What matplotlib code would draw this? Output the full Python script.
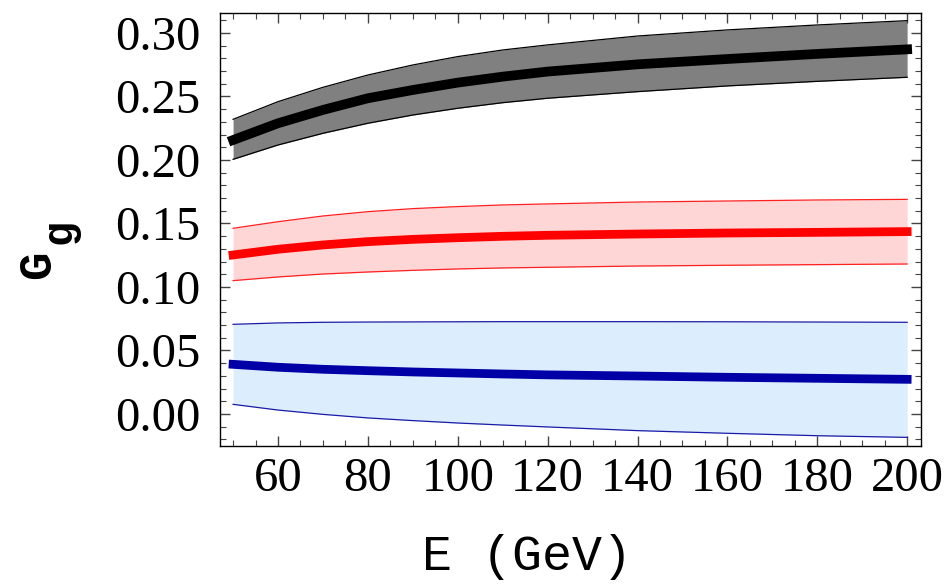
#import required modules
import matplotlib
matplotlib.use('Agg')
import matplotlib.pyplot as plt
from matplotlib.ticker import MultipleLocator

E = [50, 60, 70, 80, 90, 100, 110, 120, 140, 160, 180, 200]

#black curve with its band
blackMid = [0.2157, 0.2289, 0.2394, 0.2486, 0.2551, 0.2609, 0.2656, 0.2696, 0.2753, 0.2795, 0.2835, 0.2871]
blackHi = [0.2320, 0.2459, 0.2572, 0.2669, 0.2748, 0.2814, 0.2866, 0.2906, 0.2976, 0.3024, 0.3063, 0.3097]
blackLo = [0.2005, 0.2118, 0.2210, 0.2289, 0.2354, 0.2407, 0.2451, 0.2486, 0.2538, 0.2583, 0.2619, 0.2651]

#red curve with its band
redMid = [0.1252, 0.1297, 0.1331, 0.1357, 0.1375, 0.1388, 0.1399, 0.1407, 0.1417, 0.1425, 0.1430, 0.1436]
redHi = [0.1462, 0.1514, 0.1559, 0.1593, 0.1617, 0.1633, 0.1646, 0.1654, 0.1669, 0.1677, 0.1685, 0.1690]
redLo = [0.1050, 0.1079, 0.1102, 0.1118, 0.1131, 0.1142, 0.1150, 0.1155, 0.1165, 0.1171, 0.1176, 0.1181]

#blue curve with its band
blueMid = [0.0391, 0.0368, 0.0352, 0.0341, 0.0331, 0.0323, 0.0315, 0.0308, 0.0299, 0.0289, 0.0281, 0.0273]
blueHi = [0.0706, 0.0717, 0.0722, 0.0724, 0.0725, 0.0726, 0.0727, 0.0727, 0.0727, 0.0726, 0.0724, 0.0722]
blueLo = [0.0076, 0.0031, -0.0003, -0.0031, -0.0052, -0.0071, -0.0087, -0.0102, -0.0131, -0.0152, -0.0171, -0.0184]

#tick labels
yTicks = [0.0, 0.05, 0.10, 0.15, 0.20, 0.25, 0.30]
yLabels = ['0.00', '0.05', '0.10', '0.15', '0.20', '0.25', '0.30']
xTicks = [60, 80, 100, 120, 140, 160, 180, 200]

fig = plt.figure(figsize=(9.44, 5.84), dpi=100)
ax = fig.add_axes([0.2331, 0.2363, 0.7426, 0.7414])

#bands: (lower, upper, middle, fill colour, edge colour, line colour, line width)
bands = [
    (blueLo, blueHi, blueMid, '#dcedfd', '#1a1aa8', '#0000a6', 6.3),
    (redLo, redHi, redMid, '#ffd6d6', '#ff2020', '#ff0000', 6.3),
    (blackLo, blackHi, blackMid, '#808080', '#000000', '#000000', 7.0),
]
for lo, hi, mid, fillc, edgec, linec, lw in bands:
    ax.fill_between(E, lo, hi, color=fillc, lw=0)
    ax.plot(E, lo, color=edgec, lw=0.9)
    ax.plot(E, hi, color=edgec, lw=0.9)
    ax.plot(E, mid, color=linec, lw=lw, solid_capstyle='projecting')

#axis limits
ax.set_xlim(47.1, 203.1)
ax.set_ylim(-0.0252, 0.3157)

#ticks on every side, pointing inward
ax.xaxis.set_minor_locator(MultipleLocator(5))
ax.yaxis.set_minor_locator(MultipleLocator(0.01))
ax.set_xticks(xTicks)
ax.set_yticks(yTicks)
ax.set_yticklabels(yLabels)
ax.tick_params(which='both', direction='in', top=True, right=True, color='#444444')
ax.tick_params(which='major', length=7, width=1.0)
ax.tick_params(which='minor', length=4, width=0.8)
ax.tick_params(axis='x', which='major', pad=8)
ax.tick_params(axis='y', which='major', pad=14)
for lab in ax.get_xticklabels() + ax.get_yticklabels():
    lab.set_fontfamily('Liberation Serif')
    lab.set_fontsize(35)
for sp in ax.spines.values():
    sp.set_linewidth(1.0)

#axis labels in a typewriter face
fig.text(527/944, 1 - 557/584, 'E (GeV)', family='Liberation Mono', fontsize=36,
         ha='center', va='center')
fig.text(38/944, 1 - 265/584, 'G', family='Liberation Mono', weight='bold',
         fontsize=34, rotation=90, ha='center', va='center')
fig.text(60/944, 1 - 232/584, 'g', family='Liberation Mono', weight='bold',
         fontsize=30, rotation=90, ha='center', va='center')

fig.savefig('out.png', dpi=100)
